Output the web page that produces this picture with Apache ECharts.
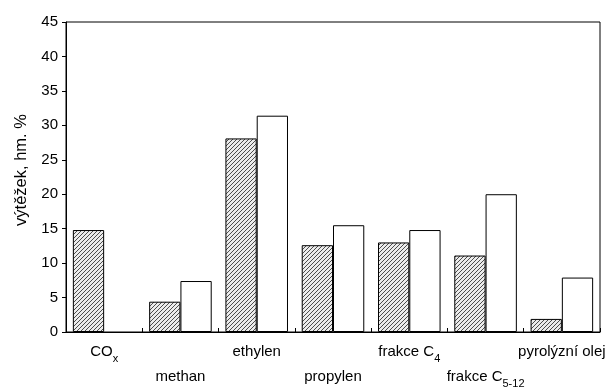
<!DOCTYPE html>
<html><head><meta charset="utf-8">
<script src="https://cdn.jsdelivr.net/npm/echarts@6/dist/echarts.min.js"></script>
<style>html,body{margin:0;padding:0;background:#fff}#c{width:610px;height:390px}</style>
</head><body><div id="c"></div>
<script>
const categories = ['CO_x', 'methan', 'ethylen', 'propylen', 'frakce C_4', 'frakce C_5-12', 'pyrolýzní olej'];
const hatchedValues = [14.8, 4.4, 28.1, 12.6, 13.0, 11.1, 1.9];
const whiteValues = [null, 7.4, 31.4, 15.5, 14.8, 20.0, 7.9];
const yTicks = { min: 0, max: 45, interval: 5 };
const yTitle = 'výtěžek, hm. %';

function makeHatch() {
  const c = document.createElement('canvas');
  c.width = 4; c.height = 4;
  const g = c.getContext('2d');
  g.fillStyle = '#ececec';
  g.fillRect(0, 0, 4, 4);
  g.strokeStyle = '#4d4d4d';
  g.lineWidth = 1;
  g.beginPath();
  g.moveTo(-1, 5); g.lineTo(5, -1);
  g.moveTo(-1, 1); g.lineTo(1, -1);
  g.moveTo(3, 5); g.lineTo(5, 3);
  g.stroke();
  return c;
}

function fmtLabel(v, i) {
  const idx = v.indexOf('_');
  let s;
  if (idx >= 0) s = '{a|' + v.slice(0, idx) + '}{s|' + v.slice(idx + 1) + '}';
  else s = '{a|' + v + '}';
  return i % 2 === 1 ? '{e| }\n' + s : s;
}

const chart = echarts.init(document.getElementById('c'));
const font = '"Liberation Sans", Arial, sans-serif';
chart.setOption({
  animation: false,
  backgroundColor: '#fff',
  textStyle: { fontFamily: font, color: '#000' },
  grid: { left: 66, right: 10, top: 22, bottom: 58, show: true, borderColor: '#000', borderWidth: 1 },
  xAxis: {
    type: 'category', data: categories,
    axisLine: { lineStyle: { color: '#000', width: 1 } },
    axisTick: { show: true, inside: true, length: 4, lineStyle: { color: '#000' } },
    axisLabel: {
      interval: 0, margin: 12, color: '#000', formatter: fmtLabel, hideOverlap: false,
      rich: {
        a: { fontSize: 15, fontFamily: font, color: '#000', lineHeight: 18, verticalAlign: 'top' },
        s: { fontSize: 11, fontFamily: font, color: '#000', lineHeight: 11, verticalAlign: 'top', padding: [9, 0, 0, 0] },
        e: { fontSize: 15, lineHeight: 25 }
      }
    }
  },
  yAxis: {
    type: 'value', min: yTicks.min, max: yTicks.max, interval: yTicks.interval,
    name: yTitle, nameLocation: 'middle', nameGap: 33, nameRotate: 90,
    nameTextStyle: { fontSize: 16.5, color: '#000', fontFamily: font, padding: [0, 0, 0, 14] },
    axisLine: { show: true, lineStyle: { color: '#000', width: 1 } },
    axisTick: { show: true, length: 4, lineStyle: { color: '#000' } },
    axisLabel: { fontSize: 15, color: '#000', margin: 8, fontFamily: font },
    splitLine: { show: false }
  },
  series: [
    { type: 'bar', data: hatchedValues, barGap: '0%', barCategoryGap: '18%',
      itemStyle: { color: { image: makeHatch(), repeat: 'repeat' }, borderColor: '#000', borderWidth: 1 } },
    { type: 'bar', data: whiteValues,
      itemStyle: { color: '#fff', borderColor: '#000', borderWidth: 1 } }
  ]
});
</script></body></html>
